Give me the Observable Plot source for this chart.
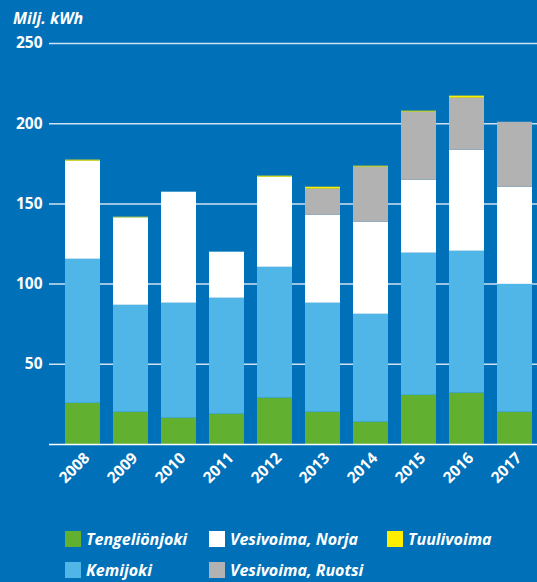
<!DOCTYPE html>
<html>
<head>
<meta charset="utf-8">
<script src="https://cdn.jsdelivr.net/npm/d3@7"></script>
<script src="https://cdn.jsdelivr.net/npm/@observablehq/plot@0.6"></script>
<style>
  html, body { margin: 0; padding: 0; background: #0071b8; }
  #wrap { width: 537px; height: 582px; background: #0071b8; position: relative; overflow: hidden; font-family: "Open Sans", sans-serif; color: #fff; }
  #title { height: 30px; box-sizing: border-box; padding-left: 13px; padding-top: 8px; font-size: 16px; font-weight: 700; font-style: italic; line-height: 20px; }
  #chart svg { display: block; }
  #legend { position: absolute; left: 0; top: 531px; width: 537px; height: 51px; }
  .item { position: absolute; display: flex; align-items: center; height: 16px; font-size: 16px; font-weight: 700; font-style: italic; white-space: nowrap; }
  .sw { width: 16px; height: 16px; margin-right: 5px; flex: none; }
</style>
</head>
<body>
<div id="wrap">
  <div id="title">Milj. kWh</div>
  <div id="chart"></div>
  <div id="legend"></div>
</div>
<script>
const years = ["2008","2009","2010","2011","2012","2013","2014","2015","2016","2017"];
const seriesNames = ["Tengeliönjoki", "Kemijoki", "Vesivoima, Norja", "Vesivoima, Ruotsi", "Tuulivoima"];
const seriesColors = ["#62b030", "#4fb6e7", "#ffffff", "#b2b2b2", "#ffed00"];
const tengelionjoki = [25.7, 20.1, 16.4, 18.9, 28.9, 20.1, 13.9, 30.7, 32.0, 20.1];
const kemijoki      = [89.8, 66.7, 71.7, 72.3, 81.6, 68.0, 67.3, 88.6, 88.5, 79.8];
const norja         = [61.1, 54.5, 69.2, 28.7, 56.1, 54.9, 57.4, 45.5, 63.0, 60.5];
const ruotsi        = [0, 0, 0, 0, 0, 16.2, 34.3, 42.4, 32.4, 40.5];
const tuuli         = [0.7, 0.4, 0, 0, 0.7, 1.2, 0.6, 0.6, 1.3, 0];
const yTicks = [50, 100, 150, 200, 250];

const seriesValues = [tengelionjoki, kemijoki, norja, ruotsi, tuuli];
const data = [];
seriesNames.forEach((s, si) => {
  years.forEach((yr, i) => data.push({year: yr, series: s, value: seriesValues[si][i]}));
});

const chart = Plot.plot({
  width: 537,
  height: 490,
  marginTop: 13,
  marginBottom: 76,
  marginLeft: 60,
  marginRight: 0,
  style: {background: "transparent", color: "#fff", fontFamily: "Open Sans, sans-serif", fontSize: "15px", fontWeight: 700},
  x: {domain: years, paddingInner: 13/48, paddingOuter: 5/48, label: null},
  y: {domain: [0, 250], label: null},
  color: {domain: seriesNames, range: seriesColors},
  marks: [
    Plot.ruleY(yTicks, {stroke: "#cde2f2", strokeWidth: 1.5, insetLeft: -11}),
    Plot.barY(data, Plot.stackY({order: seriesNames}, {x: "year", y: "value", fill: "series"})),
    Plot.ruleY([0], {stroke: "#ffffff", strokeWidth: 1.5, insetLeft: -11}),
    Plot.axisY(yTicks, {tickSize: 0, tickPadding: 18, fill: "#fff", fontSize: 15.5, fontWeight: 700, label: null}),
    Plot.axisX({tickSize: 0, tickPadding: 11, tickRotate: -45, dx: 4, fill: "#fff", fontSize: 15.5, fontWeight: 700, label: null})
  ]
});
document.getElementById("chart").appendChild(chart);

const legendPos = [
  {name: "Tengeliönjoki", x: 65, y: 0},
  {name: "Vesivoima, Norja", x: 209, y: 0},
  {name: "Tuulivoima", x: 387, y: 0},
  {name: "Kemijoki", x: 65, y: 31},
  {name: "Vesivoima, Ruotsi", x: 209, y: 31}
];
const legend = document.getElementById("legend");
legendPos.forEach(p => {
  const it = document.createElement("div");
  it.className = "item";
  it.style.left = p.x + "px";
  it.style.top = p.y + "px";
  const sw = document.createElement("span");
  sw.className = "sw";
  sw.style.background = seriesColors[seriesNames.indexOf(p.name)];
  const tx = document.createElement("span");
  tx.textContent = p.name;
  it.appendChild(sw);
  it.appendChild(tx);
  legend.appendChild(it);
});
</script>
</body>
</html>
